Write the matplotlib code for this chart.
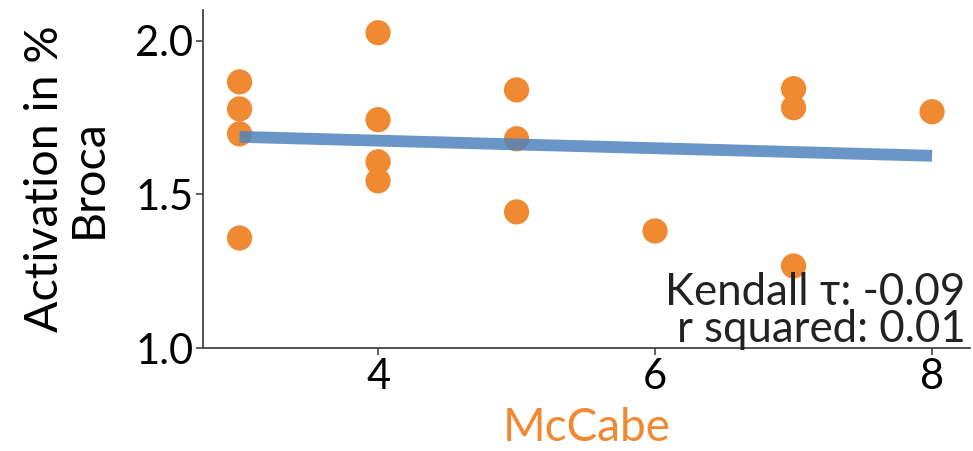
import numpy as np
import matplotlib
matplotlib.use("Agg")
import matplotlib.pyplot as plt

plt.rcParams['font.family'] = ['Lato', 'DejaVu Sans']

mccabe = [3, 3, 3, 3, 4, 4, 4, 4, 5, 5, 5, 6, 7, 7, 7, 8]
activation = [1.866, 1.778, 1.697, 1.358, 2.026, 1.743, 1.606, 1.544,
              1.840, 1.681, 1.443, 1.381, 1.844, 1.782, 1.267, 1.769]
stats_text = "Kendall τ: -0.09\nr squared: 0.01"
xticks = [4, 6, 8]
yticks = [1.0, 1.5, 2.0]

orange = '#ef8a32'
blue = '#4f83bd'

fig = plt.figure(figsize=(9.73, 4.51), dpi=100)
ax = fig.add_axes([203/973, 1 - 348/451, (970-203)/973, (348-10)/451])

x = np.array(mccabe, dtype=float)
y = np.array(activation)
slope, intercept = np.polyfit(x, y, 1)
xl = np.array([x.min(), x.max()])
ax.scatter(x, y, s=330, color=orange, edgecolors='none', zorder=2)
ax.plot(xl, slope * xl + intercept, color=blue, lw=8.5, alpha=0.85,
        solid_capstyle='butt', zorder=3)

ax.set_xlim(2.736, 8.274)
ax.set_ylim(1.0, 2.10)
ax.set_xticks(xticks)
ax.set_yticks(yticks)
ax.set_yticklabels([f"{v:.1f}" for v in yticks])
ax.tick_params(labelsize=30, length=5, width=1.2, color='#444444', pad=2)
for s in ['top', 'right']:
    ax.spines[s].set_visible(False)
for s in ['left', 'bottom']:
    ax.spines[s].set_color('#444444')
    ax.spines[s].set_linewidth(1.3)

ax.set_xlabel("McCabe", fontsize=33, color=orange, labelpad=8)
ax.set_ylabel("Activation in %\nBroca", fontsize=33.5, linespacing=1.05, labelpad=18)
ax.text(0.994, -0.005, stats_text, transform=ax.transAxes, ha='right', va='bottom',
        fontsize=31.5, color='#222222', linespacing=0.88)

fig.savefig("out.png", dpi=100)
